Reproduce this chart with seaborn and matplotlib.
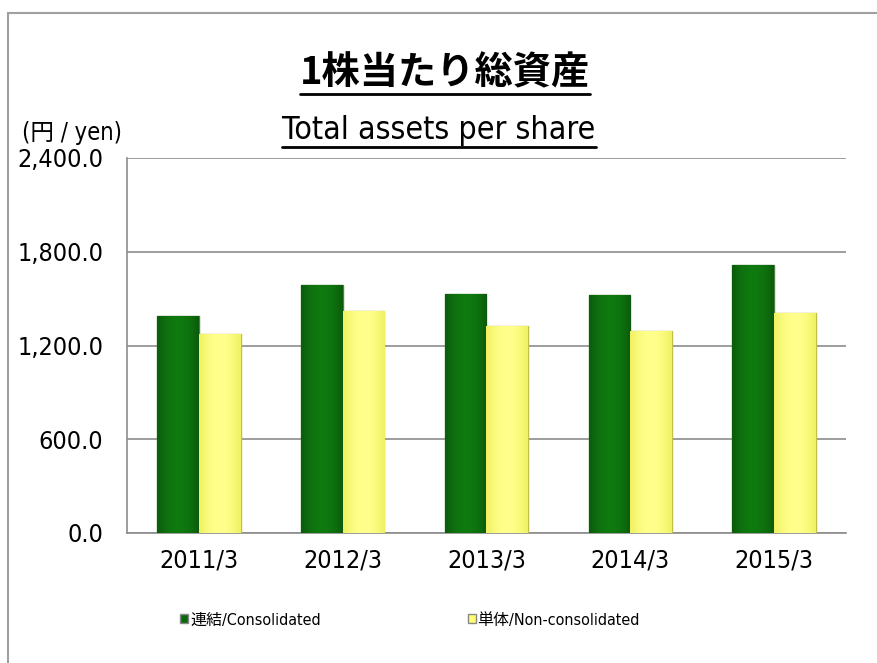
import numpy as np
import pandas as pd
import matplotlib
matplotlib.use('Agg')
import matplotlib.pyplot as plt
from matplotlib.lines import Line2D
from matplotlib.patches import Patch
from matplotlib.ticker import FuncFormatter
from matplotlib.colors import to_rgb
import seaborn as sns

# Data
years = ['2011/3', '2012/3', '2013/3', '2014/3', '2015/3']
consolidated = [1391, 1585, 1530, 1521, 1713]
non_consolidated = [1274, 1423, 1325, 1295, 1406]
series_names = ['連結/Consolidated', '単体/Non-consolidated']
y_ticks = [0, 600, 1200, 1800, 2400]

df = pd.DataFrame({
    'year': years * 2,
    'value': consolidated + non_consolidated,
    'series': [series_names[0]] * len(years) + [series_names[1]] * len(years),
})

sns.set_theme(style='white')
plt.rcParams['font.family'] = ['DejaVu Sans', 'Noto Sans CJK JP']
plt.rcParams['font.stretch'] = 'condensed'
plt.rcParams['text.color'] = 'black'

W, H = 878, 663
fig = plt.figure(figsize=(W / 100, H / 100), dpi=100)
ax = fig.add_axes([127 / W, (H - 533) / H, (846 - 127) / W, (533 - 158) / H])

palette = {series_names[0]: '#0a6a0a', series_names[1]: '#ffff70'}
sns.barplot(data=df, x='year', y='value', hue='series', palette=palette,
            width=0.58, saturation=1, legend=False, ax=ax, zorder=3)

ax.set_ylim(0, 2400)
xlim = ax.get_xlim()

# soft horizontal shading inside each bar (edges darker, middle lighter)
shades = [('#0c5a0c', '#0f7a0f', '#4f7f3f')] * 5 + [('#f0f060', '#ffff8c', '#c0c048')] * 5
t = np.linspace(-1, 1, 64)
wgt = (1 - np.abs(t) ** 2)[None, :, None]
for p, (c_edge, c_mid, c_line) in zip(ax.patches, shades):
    p.set_edgecolor(c_line)
    p.set_linewidth(1.0)
    grad = np.array(to_rgb(c_edge))[None, None, :] * (1 - wgt) + np.array(to_rgb(c_mid))[None, None, :] * wgt
    x0, w, h = p.get_x(), p.get_width(), p.get_height()
    im = ax.imshow(grad, extent=[x0, x0 + w, 0, h], aspect='auto', zorder=3.2,
                   interpolation='bilinear')
    im.set_clip_path(p)
ax.set_xlim(xlim)
ax.set_ylim(0, 2400)

ax.set_yticks(y_ticks)
ax.yaxis.set_major_formatter(FuncFormatter(lambda v, _: f'{v:,.1f}'))
ax.grid(axis='y', color='#8c8c8c', linewidth=1.2, zorder=0)
ax.set_xlabel('')
ax.set_ylabel('')
for s in ['top', 'right']:
    ax.spines[s].set_visible(False)
for s in ['left', 'bottom']:
    ax.spines[s].set_color('#8c8c8c')
    ax.spines[s].set_linewidth(1.2)
ax.tick_params(axis='both', length=0, labelsize=18, colors='black')
ax.tick_params(axis='x', pad=11)
ax.tick_params(axis='y', pad=17)

# titles
t1 = fig.text(445 / W, 1 - 73 / H, '1株当たり総資産', ha='center', va='center',
              fontsize=27.5, fontweight='bold', family=['Noto Sans CJK JP', 'DejaVu Sans'])
t2 = fig.text(439 / W, 1 - 130 / H, 'Total assets per share', ha='center', va='center',
              fontsize=23)
fig.text(22 / W, 1 - 133 / H, '(円 / yen)', ha='left', va='center', fontsize=17)

# legend
handles = [Patch(facecolor=palette[n], edgecolor='#888888') for n in series_names]
leg = fig.legend(handles, series_names, loc='center left', bbox_to_anchor=(166 / W, 1 - 620 / H),
                 ncol=2, frameon=False, fontsize=11.5, handlelength=0.5, handleheight=0.5,
                 handletextpad=0.1, columnspacing=9.2)

# figure border (top and left lines)
fig.add_artist(Line2D([8 / W, 1], [1 - 13 / H, 1 - 13 / H], color='#a0a0a0', lw=1.5))
fig.add_artist(Line2D([8 / W, 8 / W], [0, 1 - 13 / H], color='#a0a0a0', lw=1.5))

# underline the titles
fig.canvas.draw()
r = fig.canvas.get_renderer()
inv = fig.transFigure.inverted()
for txt, off in [(t1, 1), (t2, 1)]:
    bb = txt.get_window_extent(r)
    (x0, y0), (x1, _) = inv.transform([(bb.x0, bb.y0 - off), (bb.x1, bb.y0 - off)])
    fig.add_artist(Line2D([x0, x1], [y0, y0], color='black', lw=2))

fig.savefig('out.png', dpi=100)
